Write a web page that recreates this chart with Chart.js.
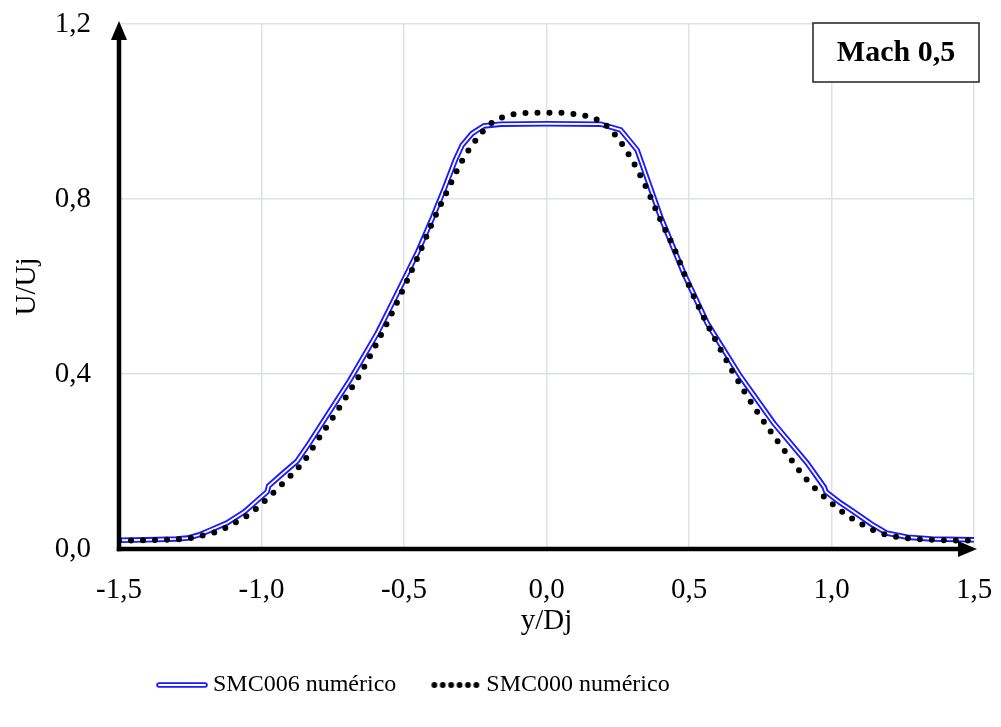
<!DOCTYPE html>
<html><head><meta charset="utf-8">
<script src="https://cdn.jsdelivr.net/npm/chart.js@4.4.0/dist/chart.umd.min.js"></script>
<style>html,body{margin:0;padding:0;background:#fff;}</style>
</head><body>
<canvas id="c" width="1001" height="727"></canvas>
<script>
// ---- data ----
const seriesNames = ['SMC006 numérico', 'SMC000 numérico'];
const smc006X = [-1.5,-1.4,-1.3,-1.26,-1.22,-1.18,-1.12,-1.06,-1.02,-0.98,-0.975,-0.93,-0.875,-0.83,-0.78,-0.69,-0.594,-0.524,-0.454,-0.40,-0.36,-0.32,-0.296,-0.261,-0.22,-0.16,0,0.19,0.26,0.318,0.40,0.482,0.564,0.681,0.798,0.915,0.975,0.98,1.03,1.078,1.14,1.195,1.266,1.35,1.5];
const smc006Y = [0.020,0.021,0.023,0.025,0.032,0.043,0.060,0.085,0.108,0.131,0.144,0.170,0.201,0.244,0.295,0.386,0.493,0.584,0.676,0.757,0.821,0.889,0.923,0.950,0.967,0.971,0.972,0.971,0.958,0.912,0.760,0.630,0.516,0.394,0.287,0.196,0.141,0.131,0.106,0.085,0.057,0.036,0.027,0.023,0.021];
const smc000X = [-1.5,-1.4,-1.3,-1.25,-1.2,-1.15,-1.1,-1.05,-1.0,-0.95,-0.9,-0.85,-0.8,-0.75,-0.7,-0.65,-0.6,-0.55,-0.5,-0.45,-0.4,-0.35,-0.3,-0.25,-0.2,-0.15,-0.1,-0.05,0,0.05,0.1,0.15,0.2,0.25,0.3,0.35,0.4,0.45,0.5,0.55,0.6,0.65,0.7,0.75,0.8,0.85,0.9,0.95,1.0,1.05,1.1,1.15,1.2,1.25,1.3,1.4,1.5];
const smc000Y = [0.019,0.020,0.022,0.025,0.032,0.041,0.058,0.076,0.103,0.134,0.166,0.202,0.252,0.300,0.351,0.404,0.465,0.529,0.598,0.670,0.747,0.816,0.883,0.933,0.970,0.988,0.995,0.997,0.997,0.997,0.994,0.988,0.973,0.939,0.889,0.826,0.752,0.684,0.602,0.532,0.469,0.409,0.354,0.303,0.256,0.212,0.168,0.134,0.105,0.079,0.059,0.042,0.031,0.026,0.023,0.020,0.019];
const xTickValues = [-1.5,-1.0,-0.5,0.0,0.5,1.0,1.5];
const xTickLabels = ['-1,5','-1,0','-0,5','0,0','0,5','1,0','1,5'];
const yTickValues = [0.0,0.4,0.8,1.2];
const yTickLabels = ['0,0','0,4','0,8','1,2'];
const xTitle = 'y/Dj';
const yTitle = 'U/Uj';
const boxLabel = 'Mach 0,5';

const toPts = (xs, ys) => xs.map((x, i) => ({x: x, y: ys[i]}));
const SERIF = "'Liberation Serif','Times New Roman',serif";
const BLUE = '#1a1aff';

function legendDouble() {
  const c = document.createElement('canvas'); c.width = 52; c.height = 10;
  const g = c.getContext('2d'); g.lineCap = 'round';
  g.strokeStyle = BLUE; g.lineWidth = 5.5; g.beginPath(); g.moveTo(3,5); g.lineTo(49,5); g.stroke();
  g.strokeStyle = '#ffffff'; g.lineWidth = 1.8; g.beginPath(); g.moveTo(3,5); g.lineTo(49,5); g.stroke();
  return c;
}
function legendDots() {
  const c = document.createElement('canvas'); c.width = 52; c.height = 10;
  const g = c.getContext('2d'); g.fillStyle = '#000';
  for (let i = 0; i < 6; i++) { g.beginPath(); g.arc(5 + i * 8.4, 5, 2.9, 0, Math.PI * 2); g.fill(); }
  return c;
}

const decor = {
  id: 'decor',
  afterLayout(chart) {
    chart.legend.left = 123;
    chart.legend.top = 633;
  },
  afterDatasetsDraw(chart) {
    const ctx = chart.ctx, xs = chart.scales.x, ys = chart.scales.y;
    const x0 = xs.getPixelForValue(xTickValues[0]);
    const x1 = xs.getPixelForValue(xTickValues[xTickValues.length - 1]);
    const y0 = ys.getPixelForValue(yTickValues[0]);
    const y1 = ys.getPixelForValue(yTickValues[yTickValues.length - 1]);
    ctx.save();
    ctx.strokeStyle = '#000'; ctx.fillStyle = '#000'; ctx.lineWidth = 4.5; ctx.lineCap = 'butt';
    // y axis
    ctx.beginPath(); ctx.moveTo(x0, y0 + 2.2); ctx.lineTo(x0, y1 + 14); ctx.stroke();
    ctx.beginPath(); ctx.moveTo(x0, y1 - 3); ctx.lineTo(x0 - 8, y1 + 16); ctx.lineTo(x0 + 8, y1 + 16); ctx.closePath(); ctx.fill();
    // x axis
    ctx.beginPath(); ctx.moveTo(x0 - 2.2, y0); ctx.lineTo(x1 - 14, y0); ctx.stroke();
    ctx.beginPath(); ctx.moveTo(x1 + 3, y0); ctx.lineTo(x1 - 16, y0 - 8); ctx.lineTo(x1 - 16, y0 + 8); ctx.closePath(); ctx.fill();
    // Mach box
    const bx = x1 - 161, by = y1 - 1, bw = 166, bh = 59;
    ctx.fillStyle = '#fff'; ctx.fillRect(bx, by, bw, bh);
    ctx.strokeStyle = '#222'; ctx.lineWidth = 1.5; ctx.strokeRect(bx, by, bw, bh);
    ctx.fillStyle = '#000'; ctx.font = "bold 30px " + SERIF; ctx.textAlign = 'center'; ctx.textBaseline = 'middle';
    ctx.fillText(boxLabel, bx + bw / 2, by + bh / 2 + 1);
    ctx.restore();
  }
};

new Chart(document.getElementById('c'), {
  type: 'line',
  data: {
    datasets: [
      { label: seriesNames[1], data: toPts(smc000X, smc000Y), borderColor: '#000', borderWidth: 6,
        borderDash: [0, 12], borderCapStyle: 'round', pointRadius: 0, cubicInterpolationMode: 'monotone', order: 1 },
      { label: seriesNames[0] + ' (core)', data: toPts(smc006X, smc006Y), borderColor: '#ffffff', borderWidth: 1.8,
        pointRadius: 0, tension: 0, order: 2 },
      { label: seriesNames[0], data: toPts(smc006X, smc006Y), borderColor: BLUE, borderWidth: 5.5,
        pointRadius: 0, tension: 0, order: 3 }
    ]
  },
  options: {
    responsive: false, animation: false, devicePixelRatio: 1,
    layout: { padding: { left: 0, right: 27, top: 24, bottom: 0 } },
    plugins: {
      tooltip: { enabled: false },
      legend: {
        position: 'bottom', align: 'start',
        labels: {
          usePointStyle: true, pointStyleWidth: 38, padding: 40,
          font: { family: SERIF, size: 24 }, color: '#000',
          generateLabels: () => [
            { text: seriesNames[0], pointStyle: legendDouble(), fillStyle: 'transparent', strokeStyle: 'transparent', lineWidth: 0, hidden: false, datasetIndex: 2, fontColor: '#000' },
            { text: seriesNames[1], pointStyle: legendDots(), fillStyle: 'transparent', strokeStyle: 'transparent', lineWidth: 0, hidden: false, datasetIndex: 0, fontColor: '#000' }
          ]
        }
      }
    },
    scales: {
      x: {
        type: 'linear', min: xTickValues[0], max: xTickValues[xTickValues.length - 1],
        afterBuildTicks: s => { s.ticks = xTickValues.map(v => ({value: v})); },
        afterFit: s => {
          s.height = 727 - 549 - (s.chart.legend ? s.chart.legend.height : 0);
          s.paddingLeft = 0; s.paddingRight = 0;
        },
        ticks: { callback: (v, i) => xTickLabels[i], font: { family: SERIF, size: 29 }, color: '#000', padding: 24, maxRotation: 0 },
        grid: { color: '#dde2ea', lineWidth: 1.5, drawTicks: false },
        border: { display: false },
        title: { display: true, text: xTitle, font: { family: SERIF, size: 29 }, color: '#000', padding: { top: 0, bottom: 14 } }
      },
      y: {
        type: 'linear', min: yTickValues[0], max: yTickValues[yTickValues.length - 1],
        afterBuildTicks: s => { s.ticks = yTickValues.map(v => ({value: v})); },
        afterFit: s => { s.width = 119; s.paddingTop = 0; s.paddingBottom = 0; },
        ticks: { callback: (v, i) => yTickLabels[i], font: { family: SERIF, size: 29 }, color: '#000', padding: 28 },
        grid: { color: '#dde2ea', lineWidth: 1.5, drawTicks: false },
        border: { display: false },
        title: { display: true, text: yTitle, font: { family: SERIF, size: 29 }, color: '#000', padding: { top: 10, bottom: 0 } }
      }
    }
  },
  plugins: [decor]
});
</script>
</body></html>
